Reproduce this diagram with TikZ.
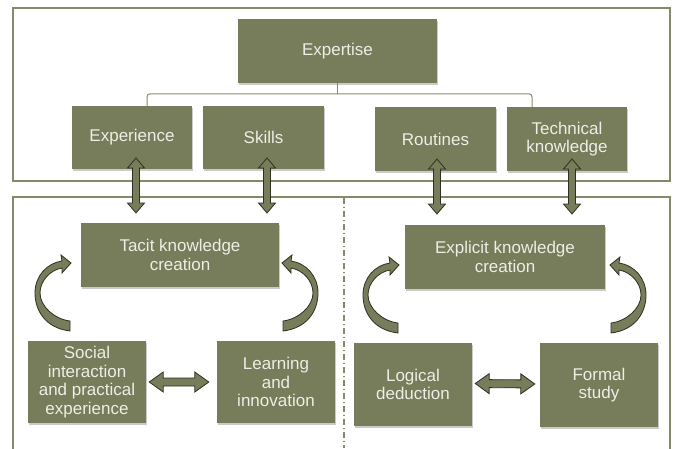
\documentclass[tikz,border=0pt]{standalone}
\usepackage{fontspec}
\setmainfont{Liberation Sans}
\usetikzlibrary{calc,shadows}
\definecolor{boxc}{HTML}{777C5A}
\definecolor{edgec}{HTML}{2E3120}
\definecolor{framec}{HTML}{858A68}
\definecolor{txtc}{HTML}{EEEEE6}
\newcommand{\blockarr}[5]{%
  \filldraw[barrow] (#1) -- ($(#1)!#3!(#2)!#4!90:(#2)$) -- ($(#1)!#3!(#2)!#5!90:(#2)$)
    -- ($(#2)!#3!(#1)!#5!-90:(#1)$) -- ($(#2)!#3!(#1)!#4!-90:(#1)$) -- (#2)
    -- ($(#2)!#3!(#1)!#4!90:(#1)$) -- ($(#2)!#3!(#1)!#5!90:(#1)$)
    -- ($(#1)!#3!(#2)!#5!-90:(#2)$) -- ($(#1)!#3!(#2)!#4!-90:(#2)$) -- cycle;}
\tikzset{
  box/.style={fill=boxc, text=txtc, align=center, inner sep=2pt,
    font=\fontsize{17}{18.8}\selectfont,
    drop shadow={shadow xshift=1pt, shadow yshift=-1.5pt, opacity=0.35, fill=black!60}},
  barrow/.style={fill=boxc, draw=edgec, line width=0.8pt, line join=miter},
  frame/.style={draw=framec, line width=1.3pt},
  bracket/.style={draw=framec, line width=1pt, rounded corners=3pt},
  divider/.style={draw=framec, line width=1.2pt, dash pattern=on 6pt off 3pt on 1pt off 3pt},
  curvarr/.pic={\filldraw[barrow] (0,5) .. controls (-25,2) and (-35,-16) .. (-35,-33)
     .. controls (-35,-50) and (-23,-63) .. (-8,-65) -- (-9,-71) -- (1,-63) -- (-8,-53)
     -- (-8,-58) .. controls (-20,-56) and (-30,-45) .. (-30,-33)
     .. controls (-30,-20) and (-16,-7) .. (0,-5) -- cycle;}
}
\begin{document}
\begin{tikzpicture}[x=1pt,y=-1pt]
\useasboundingbox (0,0) rectangle (675,448);
% frames
\draw[frame] (13,8) rectangle (670,181);
\draw[frame] (13,452) -- (13,197) -- (670,197) -- (670,452);
\draw[divider] (344,198) -- (344,448);
% top nodes
\node[box, minimum width=199pt, minimum height=64pt] (expertise) at (337.5,51) {Expertise};
\node[box, minimum width=120pt, minimum height=63pt] (exp) at (132,137.5) {Experience};
\node[box, minimum width=121pt, minimum height=63pt] (skills) at (263.5,137.5) {Skills};
\node[box, minimum width=121pt, minimum height=64pt] (routines) at (435.5,139) {Routines};
\node[box, minimum width=120pt, minimum height=64pt] (tech) at (567,139) {Technical\\knowledge};
% bottom nodes
\node[box, minimum width=198pt, minimum height=64pt] (tacit) at (180,255) {Tacit knowledge\\creation};
\node[box, minimum width=118pt, minimum height=82pt] (social) at (87,382) {Social\\interaction\\and practical\\experience};
\node[box, minimum width=118pt, minimum height=82pt] (learning) at (276,382) {Learning\\and\\innovation};
\node[box, minimum width=200pt, minimum height=64pt] (explicit) at (505,257) {Explicit knowledge\\creation};
\node[box, minimum width=118pt, minimum height=83pt] (logical) at (413,384.5) {Logical\\deduction};
\node[box, minimum width=118pt, minimum height=84pt] (formal) at (599,385) {Formal\\study};
% bracket
\draw[bracket] (expertise.south) -- (expertise.south |- 0,94);
\draw[bracket] ($(exp.north)+(15,0)$) |- ($(tech.north)+(-35,-13)$) -- ($(tech.north)+(-35,0)$);
% vertical block arrows
\coordinate (v1t) at (136,158); \coordinate (v1b) at (136,213);
\coordinate (v2t) at (267,158); \coordinate (v2b) at (267,213);
\coordinate (v3t) at (437,159); \coordinate (v3b) at (437,214);
\coordinate (v4t) at (572,159); \coordinate (v4b) at (572,214);
\blockarr{v1t}{v1b}{10pt}{8.5pt}{3.5pt}
\blockarr{v2t}{v2b}{10pt}{8.5pt}{3.5pt}
\blockarr{v3t}{v3b}{10pt}{8.5pt}{3.5pt}
\blockarr{v4t}{v4b}{10pt}{8.5pt}{3.5pt}
% horizontal block arrows
\coordinate (h1l) at ($(social.east)+(3,0)$); \coordinate (h1r) at ($(learning.west)+(-8,0)$);
\coordinate (h2l) at ($(logical.east)+(3,-1)$); \coordinate (h2r) at ($(formal.west)+(-5,-1)$);
\blockarr{h1l}{h1r}{14pt}{10pt}{4pt}
\blockarr{h2l}{h2r}{14pt}{10pt}{4pt}
% curved arrows
\pic at (70,326) {curvarr};
\pic[xscale=-1] at (283,326) {curvarr};
\pic at (398,328) {curvarr};
\pic[xscale=-1] at (611,328) {curvarr};
\end{tikzpicture}
\end{document}
